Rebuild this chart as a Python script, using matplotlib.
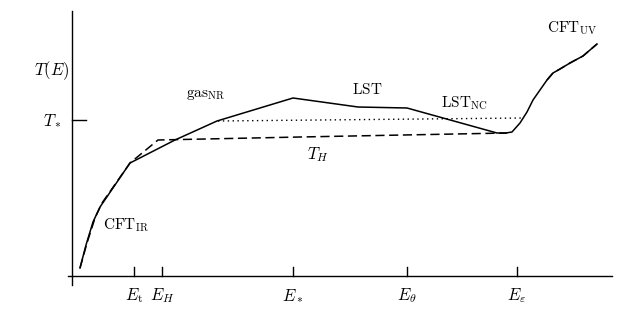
import matplotlib
matplotlib.use("Agg")
import matplotlib.pyplot as plt

plt.rcParams['mathtext.fontset'] = 'cm'
plt.rcParams['font.family'] = 'serif'
plt.rcParams['font.serif'] = ['DejaVu Serif']

# schematic curve T(E) (E from the origin, T upward)
E_full = [8, 14, 21, 28, 43, 58, 103, 145, 221, 286, 335, 425, 434, 440, 448, 455,
          461, 468, 475, 481, 488, 498, 511, 525]
T_full = [8, 31, 54, 69, 91, 113, 136, 155, 178, 169, 168, 143, 143, 144, 153, 164,
          176, 186, 196, 203, 207, 213, 220, 232]

# dashed Hagedorn branch
E_hag = [8, 15, 23, 30, 58, 86, 228, 435]
T_hag = [8, 33, 58, 73, 113, 136, 139, 143]
E_uv = [475, 481, 488, 498, 511, 525]
T_uv = [196, 203, 207, 213, 220, 232]

# dotted level near T_*
E_dot = [146, 451]
T_dot = [155, 158]

# axis marks
tick_E = [62, 90, 221, 335, 445]
tick_lab = [r'$E_{\rm t}$', r'$E_H$', r'$E_*$', r'$E_\theta$', r'$E_\varepsilon$']
T_star = 156

fig = plt.figure(figsize=(6.23, 3.13), dpi=100)
ax = fig.add_axes([0, 0, 1, 1])
ax.set_xlim(-72, 551)
ax.set_ylim(-37, 276)
ax.axis('off')

# axes lines
ax.plot([0, 0], [-9, 265], color='black', lw=1.0)
ax.plot([-4, 540], [0, 0], color='black', lw=1.0)
for e in tick_E:
    ax.plot([e, e], [0, 9], color='black', lw=1.0)
ax.plot([0, 14], [T_star, T_star], color='black', lw=1.0)

ax.plot(E_full, T_full, color='black', lw=1.1)
ax.plot(E_hag, T_hag, color='black', lw=1.1, dashes=(6, 3))
ax.plot(E_uv, T_uv, color='black', lw=1.1, dashes=(6, 3))
ax.plot(E_dot, T_dot, color='black', lw=1.0, dashes=(1, 2.5))

for e, lab in zip(tick_E, tick_lab):
    ax.text(e, -20, lab, ha='center', va='center', fontsize=12)

ax.text(-20, 205, r'$T(E)$', ha='center', va='center', fontsize=12)
ax.text(-20, 155, r'$T_*$', ha='center', va='center', fontsize=12)
ax.text(134, 181, r'$\mathrm{gas}_{\rm NR}$', ha='center', va='center', fontsize=11)
ax.text(54, 51, r'$\mathrm{CFT}_{\rm IR}$', ha='center', va='center', fontsize=11)
ax.text(295, 187, r'$\mathrm{LST}$', ha='center', va='center', fontsize=11)
ax.text(392, 173, r'$\mathrm{LST}_{\rm NC}$', ha='center', va='center', fontsize=11)
ax.text(246, 121, r'$T_H$', ha='center', va='center', fontsize=12)
ax.text(500, 248, r'$\mathrm{CFT}_{\rm UV}$', ha='center', va='center', fontsize=11)

fig.savefig('out.png', dpi=100)
